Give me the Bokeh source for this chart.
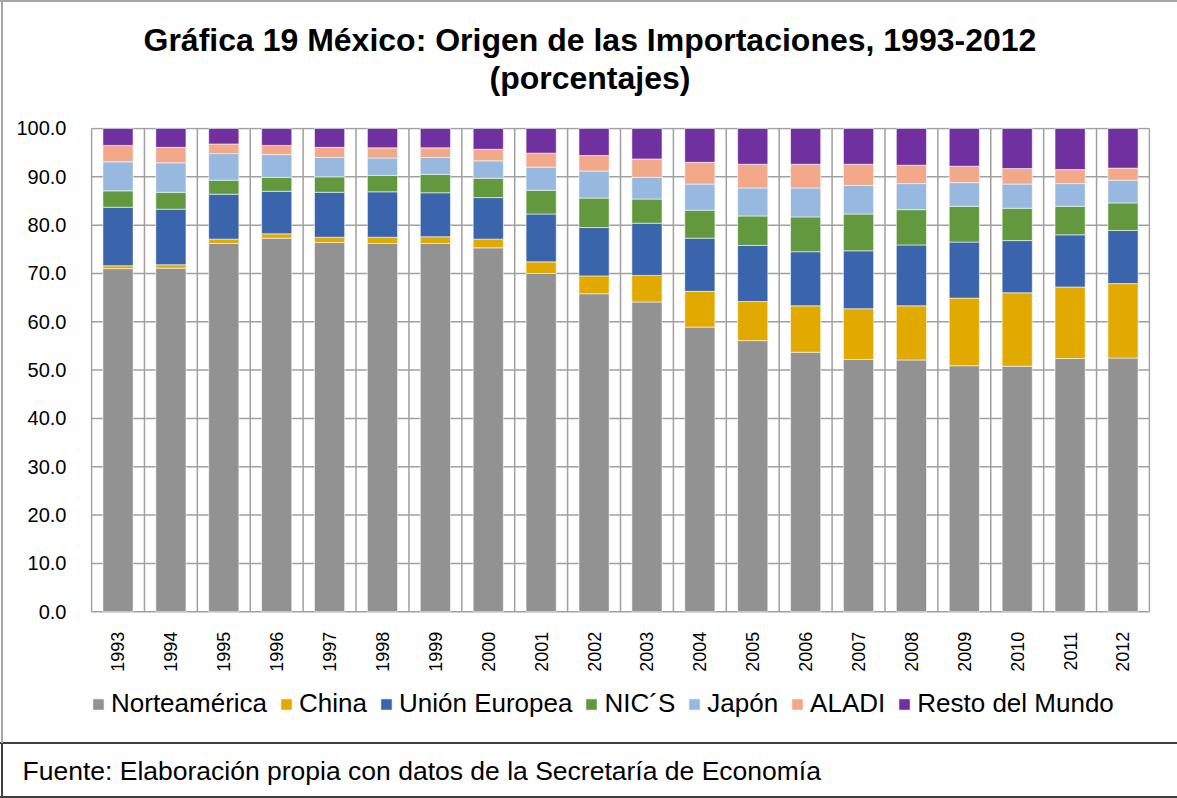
import math
from bokeh.plotting import figure
from bokeh.models import (FixedTicker, NumeralTickFormatter, Legend, LegendItem,
                          Title, Range1d, ColumnDataSource)
from bokeh.embed import file_html
from bokeh.resources import INLINE

years = [str(y) for y in range(1993, 2013)]
norteamerica = [71.0, 71.1, 76.2, 77.3, 76.4, 76.2, 76.2, 75.3, 70.0, 65.8, 64.1, 58.9, 56.1, 53.7, 52.2, 52.1, 50.9, 50.8, 52.4, 52.5]
china = [0.6, 0.7, 0.9, 0.9, 1.1, 1.3, 1.4, 1.8, 2.4, 3.7, 5.5, 7.4, 8.1, 9.6, 10.5, 11.2, 14.0, 15.2, 14.8, 15.4]
union_europea = [12.1, 11.5, 9.3, 8.8, 9.3, 9.4, 9.1, 8.6, 9.9, 10.0, 10.8, 11.0, 11.6, 11.2, 12.0, 12.6, 11.6, 10.8, 10.8, 11.0]
nics = [3.4, 3.5, 2.9, 2.9, 3.2, 3.4, 3.8, 4.0, 4.9, 6.1, 5.0, 5.8, 6.1, 7.2, 7.6, 7.3, 7.4, 6.7, 5.9, 5.7]
japon = [6.0, 6.1, 5.5, 4.7, 4.0, 3.6, 3.5, 3.6, 4.8, 5.6, 4.5, 5.4, 5.8, 6.0, 5.9, 5.4, 4.9, 5.0, 4.7, 4.7]
aladi = [3.4, 3.2, 2.0, 1.9, 2.1, 2.1, 2.0, 2.4, 2.9, 3.2, 3.8, 4.5, 4.9, 4.9, 4.4, 3.8, 3.4, 3.2, 2.9, 2.5]
resto = [3.5, 3.9, 3.2, 3.5, 3.9, 4.0, 4.0, 4.3, 5.1, 5.6, 6.3, 7.0, 7.4, 7.4, 7.4, 7.6, 7.8, 8.3, 8.5, 8.2]

series_names = ["Norteamérica", "China", "Unión Europea", "NIC´S", "Japón", "ALADI", "Resto del Mundo"]
series_keys = ["norteamerica", "china", "ue", "nics", "japon", "aladi", "resto"]
colors = ["#929292", "#E2AA00", "#3A64AC", "#62993E", "#97B8DF", "#F2A98A", "#7030A0"]
y_ticks = [0, 10, 20, 30, 40, 50, 60, 70, 80, 90, 100]

title_1 = "Gráfica 19 México: Origen de las Importaciones, 1993-2012"
title_2 = "(porcentajes)"
source_note = "Fuente: Elaboración propia con datos de la Secretaría de Economía"

FONT = "Liberation Sans"
W, H = 1177, 798
FL, FR, FT, FB = 90, 27, 127, 55           # frame borders (px); frame extends below the bars
Y0_PX, Y100_PX = 612, 128                  # pixel rows of 0 and 100 in the chart
k = (Y0_PX - Y100_PX) / 100.0
y_end = (Y0_PX - FT) / k
y_start = -((H - FB) - Y0_PX) / k

n = len(years)
centers = [i + 0.5 for i in range(n)]
cat_edges = list(range(0, n + 1))

src = ColumnDataSource(dict(x=centers, year=years, norteamerica=norteamerica, china=china,
                            ue=union_europea, nics=nics, japon=japon, aladi=aladi, resto=resto))

p = figure(width=W, height=H, x_range=Range1d(-0.02, n + 0.02), y_range=Range1d(y_start, y_end),
           output_backend="svg", toolbar_location=None,
           min_border_left=FL, min_border_right=FR, min_border_top=FT, min_border_bottom=FB)
p.border_fill_alpha = 0
p.background_fill_alpha = 0
p.outline_line_color = None
p.xgrid.visible = False
p.ygrid.visible = False
gray_b, dark_b = "#a6a6a6", "#3f3f3f"
p.styles = {
    "background": (
        f"linear-gradient({gray_b},{gray_b}) 0 0 / 100% 2px no-repeat, "
        f"linear-gradient({gray_b},{gray_b}) 1px 0 / 2px 743px no-repeat, "
        f"linear-gradient({dark_b},{dark_b}) 0 742px / 100% 2px no-repeat, "
        f"linear-gradient({dark_b},{dark_b}) 0 796px / 100% 2px no-repeat, "
        f"linear-gradient({dark_b},{dark_b}) 1px 743px / 2px 55px no-repeat, "
        "#ffffff"
    )
}

# grid lines / plot-area border limited to the 0-100 band
grid_color = "#a0a0a0"
p.segment(x0=[0] * len(y_ticks), x1=[n] * len(y_ticks), y0=y_ticks, y1=y_ticks,
          line_color=grid_color, line_width=1.5)
p.segment(x0=cat_edges, x1=cat_edges, y0=[0] * len(cat_edges), y1=[100] * len(cat_edges),
          line_color=grid_color, line_width=1.5)

renderers = p.vbar_stack(series_keys, x="x", width=0.57, source=src, color=colors,
                         line_color="white", line_alpha=0.55, line_width=1)

# titles: first added sits closest to the frame
p.add_layout(Title(text=" ", text_font=FONT, text_font_size="10px", standoff=19), "above")
p.add_layout(Title(text=title_2, align="left", offset=399, standoff=0, text_font=FONT,
                   text_font_size="32px", text_font_style="bold", text_color="black"), "above")
p.add_layout(Title(text=title_1, align="left", offset=53, standoff=0, text_font=FONT,
                   text_font_size="32px", text_font_style="bold", text_color="black"), "above")

# axes
p.yaxis.ticker = FixedTicker(ticks=y_ticks)
p.yaxis.formatter = NumeralTickFormatter(format="0.0")
p.yaxis.major_label_text_font = FONT
p.yaxis.major_label_text_font_size = "20px"
p.yaxis.major_label_text_color = "black"
p.yaxis.major_label_standoff = 18
p.yaxis.axis_line_color = None
p.yaxis.major_tick_line_color = None
p.yaxis.minor_tick_line_color = None

p.xaxis.fixed_location = 0
p.xaxis.ticker = FixedTicker(ticks=centers)
p.xaxis.major_label_overrides = {c: y for c, y in zip(centers, years)}
p.xaxis.major_label_orientation = math.pi / 2
p.xaxis.major_label_text_font = FONT
p.xaxis.major_label_text_font_size = "18px"
p.xaxis.major_label_text_color = "black"
p.xaxis.major_label_standoff = 14
p.xaxis.axis_line_color = None
p.xaxis.major_tick_line_color = None
p.xaxis.minor_tick_line_color = None

# legend inside the (extended) frame, below the year labels
legend = Legend(items=[LegendItem(label=nm, renderers=[r]) for nm, r in zip(series_names, renderers)],
                orientation="horizontal", location=(1, 23),
                glyph_width=14, glyph_height=14, label_standoff=6, spacing=12,
                padding=0, margin=0, border_line_color=None, background_fill_alpha=0,
                label_text_font=FONT, label_text_font_size="26px", label_text_color="black")
p.add_layout(legend, "center")

# footer note
p.add_layout(Title(text=source_note, align="left", offset=22 - FL, standoff=24,
                   vertical_align="middle", text_font=FONT, text_font_size="26.5px",
                   text_font_style="normal", text_color="black"), "below")

open("out.html", "w").write(file_html(p, INLINE))
